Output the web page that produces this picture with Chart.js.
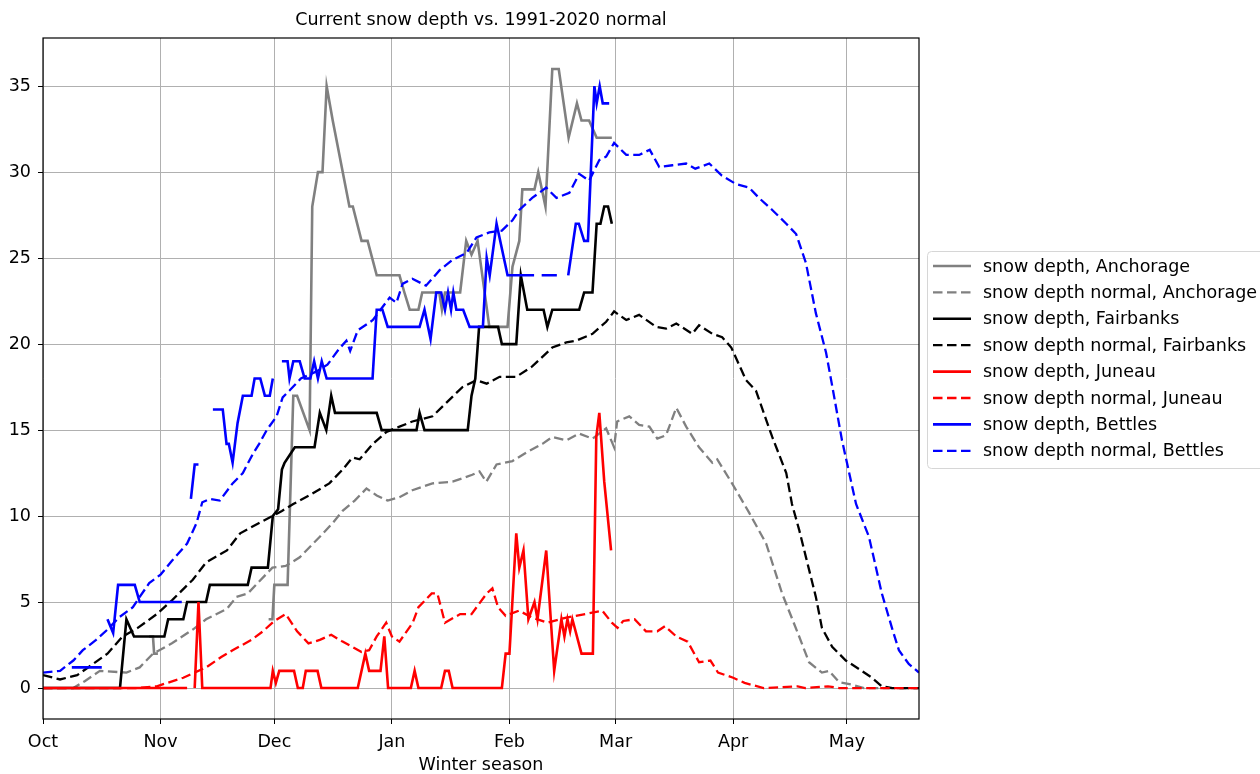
<!DOCTYPE html>
<html>
<head>
<meta charset="utf-8">
<title>Current snow depth vs. 1991-2020 normal</title>
<script src="https://cdn.jsdelivr.net/npm/chart.js@4.4.1/dist/chart.umd.min.js"></script>
<style>
  html, body { margin: 0; padding: 0; background: #fff; overflow: hidden; }
  #wrap { width: 1260px; height: 774px; }
</style>
</head>
<body>
<div id="wrap"><canvas id="snowChart" width="1260" height="774"></canvas></div>
<script>
// x values are days since Oct 1
const monthTicks = [0, 31, 61, 92, 123, 151, 182, 212];
const monthLabels = ["Oct", "Nov", "Dec", "Jan", "Feb", "Mar", "Apr", "May"];
const depthTicks = [0, 5, 10, 15, 20, 25, 30, 35];

// Anchorage
const anchorageDays = [28, 29, 29.3, 30.3, 31, 59.5, 60.5, 61, 64.5, 66, 67, 70.3, 71, 72.5, 73.7, 74.8, 76.4, 80.8, 81.7, 84, 85.6, 88, 94, 95.3, 96.7, 99, 100, 104.5, 105.2, 106, 110, 111.6, 113, 114.6, 117.7, 122.5, 123.8, 125.6, 126.4, 129.6, 130.6, 132.5, 134.3, 136, 138.6, 140.8, 142, 144, 146, 150];
const anchorageDepth = [3, 3, 2, 2, null, 4, 4, 6, 6, 17, 17, 15, 28, 30, 30, 35, 33, 28, 28, 26, 26, 24, 24, 23, 22, 22, 23, 23, 22, 23, 23, 26, 25.2, 26, 21, 21, 24.5, 26, 29, 29, 30, 28, 36, 36, 32, 34, 33, 33, 32, 32];
const anchorageNormalDays = [0, 8, 11, 15, 22, 25.5, 29, 34, 39.5, 43, 48.5, 51, 54, 57, 60.5, 64, 67.7, 73, 76.4, 79, 82.2, 85.3, 88, 90.9, 94, 97.4, 102.7, 108, 113.2, 115.1, 116.9, 119.6, 123.8, 127.5, 131.7, 134.3, 138, 141.4, 144.9, 148.5, 150.6, 151.4, 154.6, 157.2, 159.9, 162, 164.3, 167, 169.6, 173, 176.5, 177.8, 181.7, 186.2, 190.7, 194.9, 199.4, 202, 205.4, 207.3, 209.9, 213.3, 216.5, 231];
const anchorageNormal = [0, 0, 0.4, 1.0, 0.9, 1.2, 2.0, 2.6, 3.4, 4.0, 4.6, 5.3, 5.5, 6.2, 7.0, 7.1, 7.6, 8.8, 9.6, 10.3, 10.9, 11.6, 11.2, 10.9, 11.1, 11.5, 11.9, 12.0, 12.4, 12.6, 12.0, 13.0, 13.2, 13.7, 14.2, 14.6, 14.4, 14.8, 14.5, 15.1, 14.0, 15.5, 15.8, 15.3, 15.2, 14.5, 14.7, 16.3, 15.2, 14.0, 13.1, 13.3, 11.9, 10.2, 8.4, 5.5, 3.0, 1.5, 0.9, 1.0, 0.35, 0.2, 0, 0];

// Fairbanks
const fairbanksDays = [0, 20.3, 22, 24, 32, 33, 37, 38, 43, 44, 54, 55, 59.3, 60.6, 62, 63, 63.7, 66.4, 71.6, 73, 74.7, 76, 77, 88, 89.3, 98.5, 99.3, 100.6, 112, 113, 114, 115, 120, 121, 124.8, 126, 127.7, 132, 133, 134.3, 141.4, 142.7, 144.9, 146, 147, 148, 149, 150];
const fairbanksDepth = [0, 0, 4, 3, 3, 4, 4, 5, 5, 6, 6, 7, 7, 10, 10.4, 12.7, 13.1, 14, 14, 16, 15, 17, 16, 16, 15, 15, 16, 15, 15, 17, 18, 21, 21, 20, 20, 24, 22, 22, 21, 22, 22, 23, 23, 27, 27, 28, 28, 27];
const fairbanksNormalDays = [0, 4.5, 9, 13.2, 17, 21, 25, 30, 34, 39.5, 43, 48.5, 52, 57, 60.5, 63, 66, 71, 75.5, 79, 81.6, 83.5, 87, 90.6, 94, 97.4, 102.7, 106.4, 110.6, 114.3, 117, 120.4, 124.8, 129, 134.3, 138, 140.6, 144.9, 148.5, 150.6, 153.8, 157.2, 161.7, 164.3, 167, 171.2, 173, 176.5, 179.1, 181.5, 185.4, 188, 190.7, 192.3, 196, 197.5, 199.4, 201.2, 203.8, 205.4, 208.1, 211.7, 215.9, 218.6, 221.2, 224, 231];
const fairbanksNormal = [0.75, 0.5, 0.75, 1.4, 2.0, 3.0, 3.5, 4.3, 5.1, 6.3, 7.3, 8.0, 9.0, 9.6, 10.0, 10.3, 10.7, 11.3, 11.9, 12.7, 13.4, 13.3, 14.2, 14.9, 15.2, 15.5, 15.8, 16.6, 17.5, 17.9, 17.7, 18.1, 18.1, 18.7, 19.8, 20.1, 20.2, 20.6, 21.3, 21.9, 21.4, 21.7, 21.0, 20.9, 21.2, 20.6, 21.1, 20.6, 20.4, 19.8, 17.9, 17.3, 15.6, 14.6, 12.5, 10.7, 9.2, 7.6, 5.3, 3.5, 2.4, 1.6, 1.0, 0.6, 0.1, 0, 0];

// Juneau
const juneauDays = [0, 38, 39, 40, 41, 42, 60, 60.6, 61.4, 62.3, 66.2, 67.2, 68.5, 69.3, 72.4, 73.4, 83, 85, 86, 89, 90, 91, 97, 98, 99, 105, 106, 107, 108, 121, 122, 123, 124.8, 125.6, 126.7, 128, 129.6, 130.4, 132.7, 134.8, 136.7, 137.5, 138.3, 139, 139.6, 142, 145, 145.9, 146.7, 148, 149.8];
const juneauDepth = [0, 0, null, 0, 5, 0, 0, 1, 0.3, 1, 1, 0, 0, 1, 1, 0, 0, 2, 1, 1, 3, 0, 0, 1, 0, 0, 1, 1, 0, 0, 2, 2, 9, 7, 8, 4, 5, 4, 8, 1, 4, 3, 4, 3.3, 4, 2, 2, 14.6, 16, 12, 8];
const juneauNormalDays = [0, 25, 30, 37, 43, 47, 50, 55, 58, 61, 64, 67, 70, 73, 76, 79, 84, 86, 88, 90.5, 92, 94, 97.5, 99, 102.5, 104, 106, 110, 113, 117, 118.5, 120, 122, 125.5, 129, 133, 138, 143, 147.5, 150, 151.5, 153, 156, 159, 162, 164, 167, 170, 173, 176, 178, 182, 185, 190, 199, 201, 207, 210, 231];
const juneauNormal = [0, 0, 0.1, 0.6, 1.2, 1.8, 2.2, 2.8, 3.3, 3.9, 4.3, 3.3, 2.6, 2.8, 3.1, 2.7, 2.1, 2.2, 3.0, 3.8, 3.0, 2.7, 3.8, 4.7, 5.5, 5.5, 3.8, 4.3, 4.3, 5.5, 5.8, 4.7, 4.2, 4.5, 4.1, 3.8, 4.1, 4.3, 4.5, 3.8, 3.5, 3.9, 4.0, 3.3, 3.3, 3.6, 3.0, 2.7, 1.5, 1.6, 0.9, 0.6, 0.3, 0, 0.1, 0, 0.1, 0, 0];

// Bettles
const bettlesDays = [7.6, 15.5, 16.5, 17, 18.5, 19.8, 24.2, 25.5, 36.6, 37.5, 39, 40, 41, 42, 44.8, 47.4, 48.4, 49, 50, 51.3, 52.7, 55, 55.8, 57.3, 58.5, 59.8, 60.6, 61.5, 63, 64.5, 65, 66, 67.7, 69, 70.5, 71.5, 72.5, 73.5, 74.8, 86.9, 88, 89.5, 90.9, 99.3, 100.6, 102.2, 103.7, 105, 106, 106.8, 107.6, 108.2, 109, 110.8, 112.5, 116, 117, 117.8, 119.6, 122.5, 129.5, 130.5, 131.5, 135.5, 136.5, 138.5, 140.5, 141.3, 142.7, 143.7, 145.4, 146, 146.8, 147.6, 149.3];
const bettlesDepth = [1.2, 1.2, null, 4, 3.2, 6, 6, 5, 5, null, 11, 13, 13, null, 16.2, 16.2, 14.2, 14.2, 13.1, 15.4, 17, 17, 18, 18, 17, 17, 18, null, 19, 19, 18, 19, 19, 18, 18, 19, 18, 19, 18, 18, 22, 22, 21, 21, 22, 20.3, 23, 23, 22, 23, 22, 23, 22, 22, 21, 21, 25, 24, 27, 24, 24, null, 24, 24, null, 24, 27, 27, 26, 26, 35, 34, 35, 34, 34];
const bettlesNormalDays = [0, 4.5, 8, 10.5, 14, 17, 20, 23.7, 25.5, 28, 31, 34, 38, 40.5, 42, 44, 46.6, 50, 52.7, 55.3, 57, 59, 61.6, 63.2, 65, 68, 72, 75, 78, 80, 81, 83, 87, 89, 91.4, 93.2, 94.8, 97.4, 101, 104.6, 108, 111.7, 114.3, 117.7, 121, 123.8, 125.6, 129, 132.7, 135.4, 138.8, 141.4, 144, 146.7, 148.5, 150.6, 153.8, 157.2, 160, 162.5, 166, 169.6, 172, 175.7, 179, 182.8, 186.2, 188.8, 192.3, 196, 198.6, 201.2, 203.8, 206.5, 208, 210.7, 214.4, 217.8, 221.2, 224, 225.7, 228.3, 231];
const bettlesNormal = [0.9, 1.0, 1.6, 2.2, 2.8, 3.4, 4.1, 4.7, 5.3, 6.1, 6.6, 7.4, 8.4, 9.6, 10.8, 11.0, 10.9, 11.9, 12.5, 13.6, 14.2, 15.0, 15.8, 16.9, 17.3, 18.0, 18.4, 18.8, 19.7, 20.2, 19.6, 20.8, 21.4, 22.0, 22.7, 22.4, 23.5, 23.8, 23.4, 24.3, 24.9, 25.3, 26.2, 26.5, 26.6, 27.2, 27.8, 28.5, 29.1, 28.5, 28.8, 29.9, 29.5, 30.7, 30.9, 31.7, 31.0, 31.0, 31.3, 30.3, 30.4, 30.5, 30.2, 30.5, 29.8, 29.3, 29.1, 28.5, 27.8, 27.0, 26.4, 24.7, 21.8, 19.5, 17.7, 14.4, 10.7, 8.8, 5.5, 3.4, 2.2, 1.4, 0.9];

const FONT = "'DejaVu Sans', sans-serif";
const SOLID = [];
const DASHED = [9.5, 4.5];

function pts(days, vals) {
  return days.map((d, i) => ({ x: d, y: vals[i] }));
}

const series = [
  { label: "snow depth, Anchorage", data: pts(anchorageDays, anchorageDepth), color: "#808080", dash: SOLID },
  { label: "snow depth normal, Anchorage", data: pts(anchorageNormalDays, anchorageNormal), color: "#808080", dash: DASHED },
  { label: "snow depth, Fairbanks", data: pts(fairbanksDays, fairbanksDepth), color: "#000000", dash: SOLID },
  { label: "snow depth normal, Fairbanks", data: pts(fairbanksNormalDays, fairbanksNormal), color: "#000000", dash: DASHED },
  { label: "snow depth, Juneau", data: pts(juneauDays, juneauDepth), color: "#ff0000", dash: SOLID },
  { label: "snow depth normal, Juneau", data: pts(juneauNormalDays, juneauNormal), color: "#ff0000", dash: DASHED },
  { label: "snow depth, Bettles", data: pts(bettlesDays, bettlesDepth), color: "#0000ff", dash: SOLID },
  { label: "snow depth normal, Bettles", data: pts(bettlesNormalDays, bettlesNormal), color: "#0000ff", dash: DASHED }
];

/* marco negro alrededor del area de datos (como matplotlib) */
const frameBox = {
  id: "frameBox",
  afterDatasetsDraw(chart) {
    const { ctx, chartArea: a } = chart;
    ctx.save();
    ctx.strokeStyle = "#000";
    ctx.lineWidth = 1.2;
    ctx.strokeRect(a.left, a.top, a.right - a.left, a.bottom - a.top);
    ctx.restore();
  }
};

/* leyenda con marco, fuera del area, cortada por el borde derecho */
const legendPanel = {
  id: "legendPanel",
  afterDraw(chart) {
    const ctx = chart.ctx;
    const x0 = 927.5, y0 = 251.5, w = 360, h = 217, r = 4;
    ctx.save();
    ctx.beginPath();
    ctx.moveTo(x0 + r, y0);
    ctx.lineTo(x0 + w - r, y0);
    ctx.arcTo(x0 + w, y0, x0 + w, y0 + r, r);
    ctx.lineTo(x0 + w, y0 + h - r);
    ctx.arcTo(x0 + w, y0 + h, x0 + w - r, y0 + h, r);
    ctx.lineTo(x0 + r, y0 + h);
    ctx.arcTo(x0, y0 + h, x0, y0 + h - r, r);
    ctx.lineTo(x0, y0 + r);
    ctx.arcTo(x0, y0, x0 + r, y0, r);
    ctx.closePath();
    ctx.fillStyle = "rgba(255,255,255,0.85)";
    ctx.fill();
    ctx.strokeStyle = "#d6d6d6";
    ctx.lineWidth = 1;
    ctx.stroke();

    chart.data.datasets.forEach((ds, i) => {
      const y = 266 + i * 26.4;
      ctx.beginPath();
      ctx.setLineDash(ds.borderDash);
      ctx.strokeStyle = ds.borderColor;
      ctx.lineWidth = ds.borderWidth;
      ctx.moveTo(933, y);
      ctx.lineTo(971, y);
      ctx.stroke();
      ctx.setLineDash([]);
      ctx.fillStyle = "#000";
      ctx.font = "17.5px " + FONT;
      ctx.textBaseline = "middle";
      ctx.textAlign = "left";
      ctx.fillText(ds.label, 983, y + 1);
    });
    ctx.restore();
  }
};

const tickFont = { family: FONT, size: 17.5 };

new Chart(document.getElementById("snowChart").getContext("2d"), {
  type: "line",
  data: {
    datasets: series.map((s, i) => ({
      label: s.label,
      data: s.data,
      borderColor: s.color,
      borderWidth: s.dash.length ? 2.3 : 2.6,
      borderDash: s.dash,
      pointRadius: 0,
      tension: 0,
      fill: false,
      spanGaps: false,
      order: series.length - i
    }))
  },
  options: {
    responsive: false,
    animation: false,
    devicePixelRatio: 1,
    layout: { padding: { left: 0, right: 341, top: 0, bottom: 0 } },
    plugins: {
      legend: { display: false },
      tooltip: { enabled: false },
      title: {
        display: true,
        fullSize: false,
        text: "Current snow depth vs. 1991-2020 normal",
        color: "#000",
        font: { family: FONT, size: 17.5, weight: "normal", lineHeight: 1.2 },
        padding: { top: 10, bottom: 7 }
      }
    },
    scales: {
      x: {
        type: "linear",
        min: 0,
        max: 231,
        afterBuildTicks: s => { s.ticks = monthTicks.map(v => ({ value: v })); },
        afterFit: s => { s.height = 55; },
        ticks: {
          callback: (v, i) => monthLabels[i],
          color: "#000",
          font: tickFont,
          padding: 8,
          maxRotation: 0,
          autoSkip: false
        },
        grid: { color: "#b0b0b0", lineWidth: 1, tickLength: 5, tickColor: "#000", drawTicks: true },
        border: { display: false },
        title: {
          display: true,
          text: "Winter season",
          color: "#000",
          font: { family: FONT, size: 17.5, lineHeight: 1.0 },
          padding: { top: 0, bottom: 0 }
        }
      },
      y: {
        type: "linear",
        min: -1.8,
        max: 37.8,
        afterBuildTicks: s => { s.ticks = depthTicks.map(v => ({ value: v })); },
        afterFit: s => { s.width = 43; },
        ticks: { color: "#000", font: tickFont, padding: 7 },
        grid: { color: "#b0b0b0", lineWidth: 1, tickLength: 5, tickColor: "#000", drawTicks: true },
        border: { display: false }
      }
    }
  },
  plugins: [frameBox, legendPanel]
});
</script>
</body>
</html>
